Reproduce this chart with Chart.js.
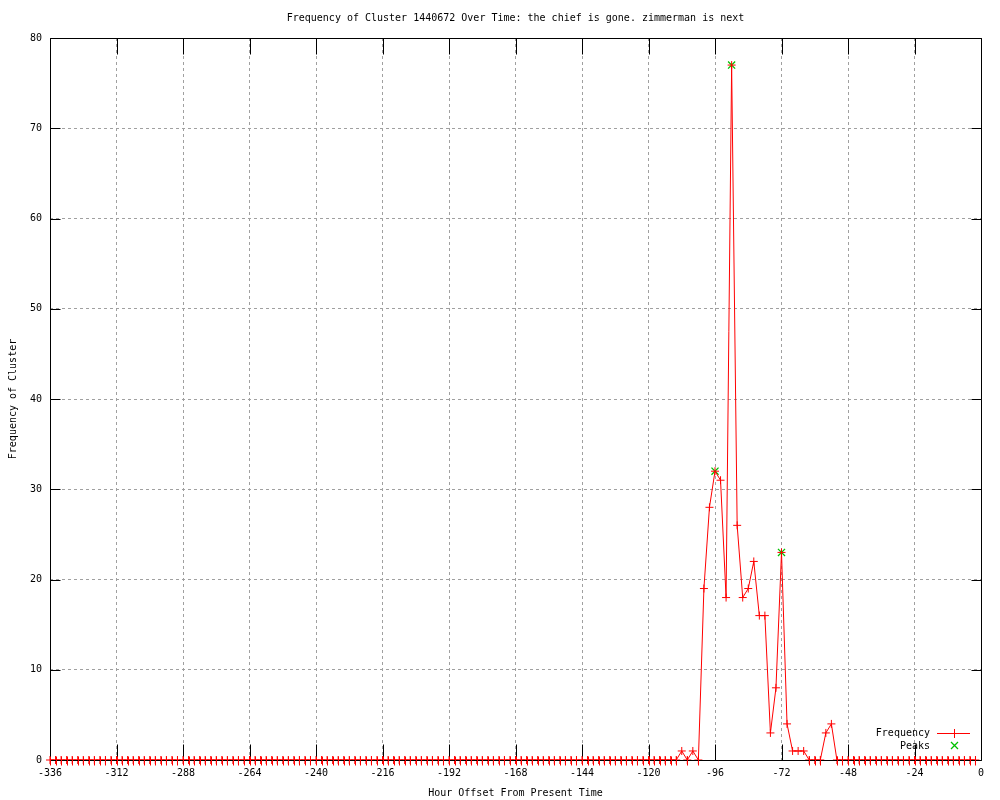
<!DOCTYPE html>
<html>
<head>
<meta charset="utf-8">
<script src="https://cdn.jsdelivr.net/npm/chart.js@4/dist/chart.umd.min.js"></script>
<style>
  html, body { margin: 0; padding: 0; background: #fff; }
  #wrap { width: 1000px; height: 800px; position: relative; }
</style>
</head>
<body>
<div id="wrap"><canvas id="chart"></canvas></div>
<script>
const chartTitle = "Frequency of Cluster 1440672 Over Time: the chief is gone. zimmerman is next";
const xTitle = "Hour Offset From Present Time";
const yTitle = "Frequency of Cluster";

// hour offsets, one sample every 2 hours
const hours = [
  -336, -334, -332, -330, -328, -326, -324, -322, -320, -318, -316, -314,
  -312, -310, -308, -306, -304, -302, -300, -298, -296, -294, -292, -290,
  -288, -286, -284, -282, -280, -278, -276, -274, -272, -270, -268, -266,
  -264, -262, -260, -258, -256, -254, -252, -250, -248, -246, -244, -242,
  -240, -238, -236, -234, -232, -230, -228, -226, -224, -222, -220, -218,
  -216, -214, -212, -210, -208, -206, -204, -202, -200, -198, -196, -194,
  -192, -190, -188, -186, -184, -182, -180, -178, -176, -174, -172, -170,
  -168, -166, -164, -162, -160, -158, -156, -154, -152, -150, -148, -146,
  -144, -142, -140, -138, -136, -134, -132, -130, -128, -126, -124, -122,
  -120, -118, -116, -114, -112, -110, -108, -106, -104, -102, -100, -98,
  -96, -94, -92, -90, -88, -86, -84, -82, -80, -78, -76, -74,
  -72, -70, -68, -66, -64, -62, -60, -58, -56, -54, -52, -50,
  -48, -46, -44, -42, -40, -38, -36, -34, -32, -30, -28, -26,
  -24, -22, -20, -18, -16, -14, -12, -10, -8, -6, -4, -2
];

const frequency = [
  0, 0, 0, 0, 0, 0, 0, 0, 0, 0, 0, 0,
  0, 0, 0, 0, 0, 0, 0, 0, 0, 0, 0, 0,
  0, 0, 0, 0, 0, 0, 0, 0, 0, 0, 0, 0,
  0, 0, 0, 0, 0, 0, 0, 0, 0, 0, 0, 0,
  0, 0, 0, 0, 0, 0, 0, 0, 0, 0, 0, 0,
  0, 0, 0, 0, 0, 0, 0, 0, 0, 0, 0, 0,
  0, 0, 0, 0, 0, 0, 0, 0, 0, 0, 0, 0,
  0, 0, 0, 0, 0, 0, 0, 0, 0, 0, 0, 0,
  0, 0, 0, 0, 0, 0, 0, 0, 0, 0, 0, 0,
  0, 0, 0, 0, 0, 0, 1, 0, 1, 0, 19, 28,
  32, 31, 18, 77, 26, 18, 19, 22, 16, 16, 3, 8,
  23, 4, 1, 1, 1, 0, 0, 0, 3, 4, 0, 0,
  0, 0, 0, 0, 0, 0, 0, 0, 0, 0, 0, 0,
  0, 0, 0, 0, 0, 0, 0, 0, 0, 0, 0, 0
];

const peakHours = [-96, -90, -72];
const peakValues = [32, 77, 23];

const xMin = -336, xMax = 0, xStep = 24;
const yMin = 0, yMax = 80, yStep = 10;

const FONT = "'DejaVu Sans Mono', 'Liberation Mono', monospace";
const RED = "#ff0000";
const GREEN = "#00c000";

// gnuplot-style frame: border, inward ticks on all sides, titles, key
const gnuplotFrame = {
  id: "gnuplotFrame",
  afterDatasetsDraw(chart) {
    const { ctx, chartArea: a, scales } = chart;
    const x = scales.x, y = scales.y;
    ctx.save();
    ctx.strokeStyle = "#000";
    ctx.lineWidth = 1;
    ctx.setLineDash([]);
    const L = Math.round(a.left) + 0.5, R = Math.round(a.right) + 0.5;
    const T = Math.round(a.top) + 0.5, B = Math.round(a.bottom) + 0.5;
    ctx.beginPath();
    ctx.rect(L, T, R - L, B - T);
    x.ticks.forEach(t => {
      const px = Math.round(x.getPixelForValue(t.value)) + 0.5;
      ctx.moveTo(px, B); ctx.lineTo(px, B - 16);
      ctx.moveTo(px, T); ctx.lineTo(px, T + 16);
    });
    y.ticks.forEach(t => {
      const py = Math.round(y.getPixelForValue(t.value)) + 0.5;
      ctx.moveTo(L, py); ctx.lineTo(L + 10, py);
      ctx.moveTo(R, py); ctx.lineTo(R - 10, py);
    });
    ctx.stroke();

    // red markers at zero sit on top of the axis line, as in gnuplot
    const meta = chart.getDatasetMeta(0);
    ctx.strokeStyle = RED;
    ctx.beginPath();
    meta.data.forEach((pt, i) => {
      if (frequency[i] === 0) {
        const px = Math.round(pt.x) + 0.5;
        ctx.moveTo(px, B - 4); ctx.lineTo(px, B + 5);
      }
    });
    ctx.stroke();

    ctx.fillStyle = "#000";
    ctx.font = "10px " + FONT;
    ctx.textBaseline = "middle";
    ctx.textAlign = "center";
    const cx = (a.left + a.right) / 2;
    ctx.fillText(chartTitle, cx, 18);
    ctx.fillText(xTitle, cx, 793);
    ctx.save();
    ctx.translate(13, (a.top + a.bottom) / 2);
    ctx.rotate(-Math.PI / 2);
    ctx.fillText(yTitle, 0, 0);
    ctx.restore();

    // key
    ctx.textAlign = "right";
    ctx.fillText("Frequency", 930, 733);
    ctx.fillText("Peaks", 930, 746);
    ctx.strokeStyle = RED;
    ctx.beginPath();
    ctx.moveTo(937, 733.5); ctx.lineTo(970, 733.5);
    ctx.moveTo(954.5, 729); ctx.lineTo(954.5, 738);
    ctx.stroke();
    ctx.strokeStyle = GREEN;
    ctx.lineWidth = 1.3;
    ctx.beginPath();
    ctx.moveTo(951, 742); ctx.lineTo(958, 749);
    ctx.moveTo(958, 742); ctx.lineTo(951, 749);
    ctx.stroke();
    ctx.restore();
  }
};

new Chart(document.getElementById("chart"), {
  type: "line",
  data: {
    datasets: [
      {
        label: "Frequency",
        data: hours.map((h, i) => ({ x: h, y: frequency[i] })),
        borderColor: RED,
        backgroundColor: RED,
        borderWidth: 1,
        tension: 0,
        pointStyle: "cross",
        pointRadius: 4,
        pointBorderWidth: 1,
        pointBorderColor: RED,
        fill: false,
        clip: false
      },
      {
        label: "Peaks",
        data: peakHours.map((h, i) => ({ x: h, y: peakValues[i] })),
        showLine: false,
        borderColor: GREEN,
        backgroundColor: GREEN,
        pointStyle: "crossRot",
        pointRadius: 5,
        pointBorderWidth: 1.3,
        pointBorderColor: GREEN,
        clip: false
      }
    ]
  },
  options: {
    responsive: true,
    maintainAspectRatio: false,
    animation: false,
    layout: { padding: { left: 0, top: 38, right: 19, bottom: 0 } },
    plugins: {
      legend: { display: false },
      title: { display: false },
      tooltip: { enabled: false }
    },
    scales: {
      x: {
        type: "linear",
        min: xMin,
        max: xMax,
        afterFit(s) { s.height = 40; },
        ticks: {
          stepSize: xStep,
          color: "#000",
          padding: 7,
          maxRotation: 0,
          font: { family: FONT, size: 10 }
        },
        grid: { color: "#a0a0a0", lineWidth: 1, drawTicks: false },
        border: { display: false, dash: [3, 3] }
      },
      y: {
        min: yMin,
        max: yMax,
        afterFit(s) { s.width = 50; },
        ticks: {
          stepSize: yStep,
          color: "#000",
          padding: 8,
          font: { family: FONT, size: 10 }
        },
        grid: { color: "#a0a0a0", lineWidth: 1, drawTicks: false },
        border: { display: false, dash: [3, 3] }
      }
    }
  },
  plugins: [gnuplotFrame]
});
</script>
</body>
</html>
